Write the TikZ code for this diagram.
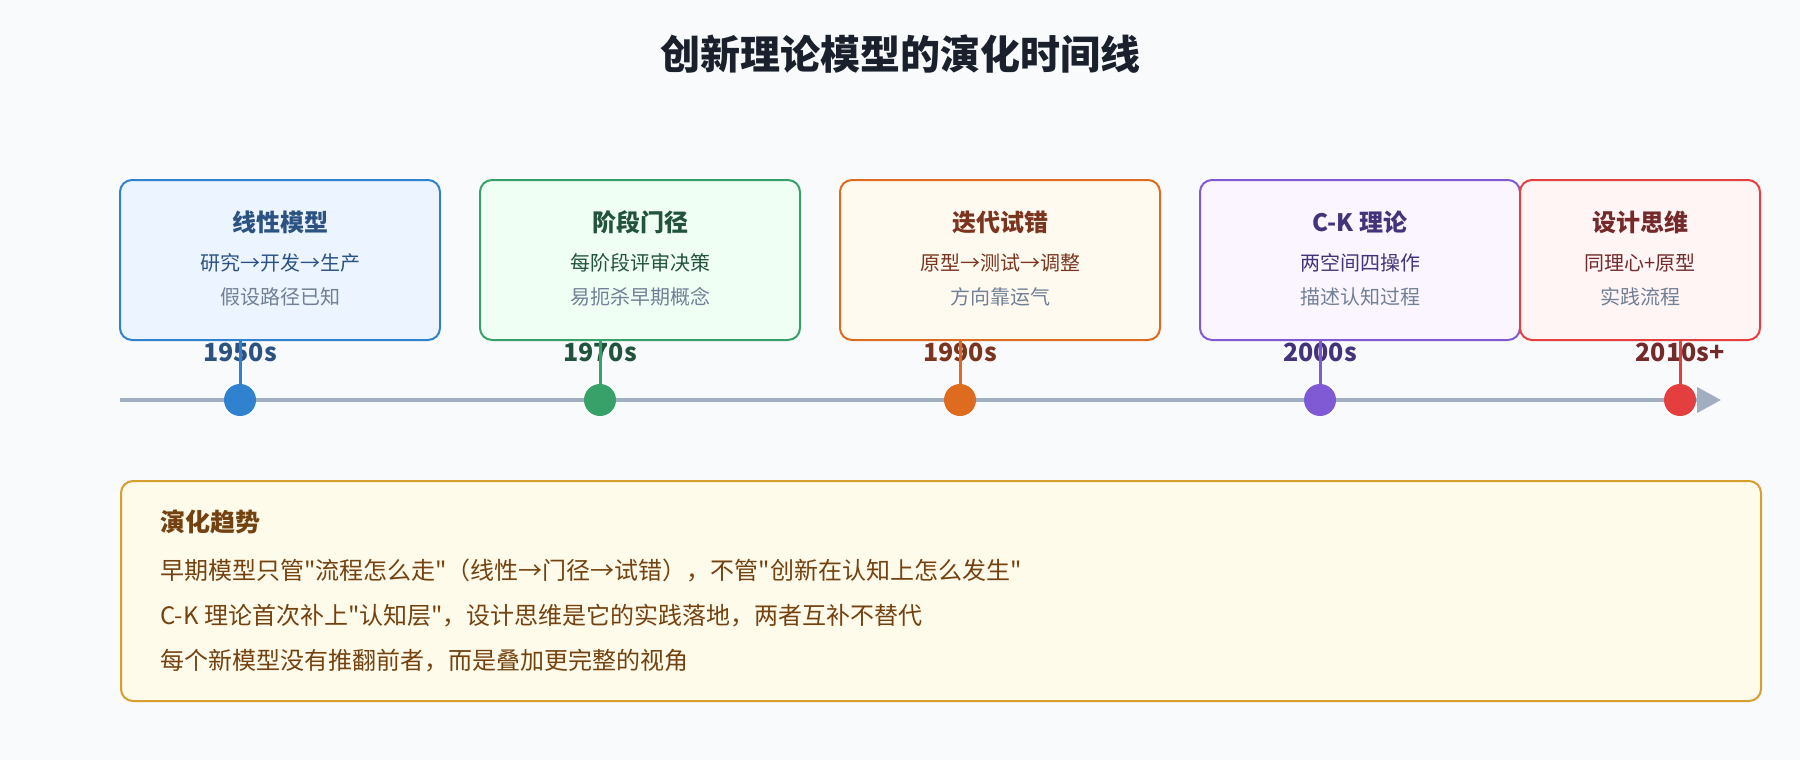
\documentclass[tikz,border=0pt]{standalone}
\usepackage{fontspec}
\setmainfont{Noto Sans CJK SC}[Ligatures=TeXOff]
\usetikzlibrary{arrows.meta}
\definecolor{bg}{HTML}{F8FAFC}
\definecolor{ttl}{HTML}{1A202C}
\definecolor{axis}{HTML}{A0AEC0}
\definecolor{sub}{HTML}{718096}
\definecolor{cA}{HTML}{3182CE}\definecolor{fA}{HTML}{EBF4FF}\definecolor{tA}{HTML}{2C5282}
\definecolor{cB}{HTML}{38A169}\definecolor{fB}{HTML}{F0FFF4}\definecolor{tB}{HTML}{22543D}
\definecolor{cC}{HTML}{DD6B20}\definecolor{fC}{HTML}{FFFAF0}\definecolor{tC}{HTML}{7B341E}
\definecolor{cD}{HTML}{805AD5}\definecolor{fD}{HTML}{FAF5FF}\definecolor{tD}{HTML}{44337A}
\definecolor{cE}{HTML}{E53E3E}\definecolor{fE}{HTML}{FFF5F5}\definecolor{tE}{HTML}{742A2A}
\definecolor{cN}{HTML}{D69E2E}\definecolor{fN}{HTML}{FFFBEB}\definecolor{tN}{HTML}{744210}
\begin{document}
\begin{tikzpicture}[x=1pt,y=-1pt,
  card/.style={draw=#1, line width=2pt, rounded corners=12pt, minimum height=160pt,
    inner sep=0pt, outer sep=0pt, anchor=north west},
  cardtitle/.style={text=#1, font=\fontsize{24}{28}\selectfont\bfseries, inner sep=0pt},
  cardline/.style={text=#1, font=\fontsize{20}{24}\selectfont, inner sep=0pt},
  cardsub/.style={text=sub, font=\fontsize{20}{24}\selectfont, inner sep=0pt},
  year/.style={text=#1, font=\fontsize{25}{28}\selectfont\bfseries, inner sep=0pt},
  stem/.style={draw=#1, line width=3pt},
  dot/.style={circle, fill=#1, minimum size=32pt, inner sep=0pt},
  notehead/.style={text=tN, font=\fontsize{25}{28}\selectfont\bfseries, inner sep=0pt, anchor=west},
  noteline/.style={text=tN, font=\fontsize{24}{28}\selectfont, inner sep=0pt, anchor=west},
]
\useasboundingbox (0,0) rectangle (1800,760);
\fill[bg] (0,0) rectangle (1800,760);

\node[text=ttl, font=\fontsize{40}{46}\selectfont\bfseries, inner sep=0pt] (title) at (900,54) {创新理论模型的演化时间线};

% cards
\node[card=cA, fill=fA, minimum width=320pt] (boxA) at (120,180) {};
\node[card=cB, fill=fB, minimum width=320pt] (boxB) at (480,180) {};
\node[card=cC, fill=fC, minimum width=320pt] (boxC) at (840,180) {};
\node[card=cD, fill=fD, minimum width=320pt] (boxD) at (1200,180) {};
\node[card=cE, fill=fE, minimum width=240pt] (boxE) at (1520,180) {};

\node[cardtitle=tA] (tiA) at (280,222) {线性模型};
\node[cardline=tA] (l1A) at (280,263) {研究→开发→生产};
\node[cardsub] (l2A) at (280,297) {假设路径已知};

\node[cardtitle=tB] (tiB) at (640,222) {阶段门径};
\node[cardline=tB] (l1B) at (640,263) {每阶段评审决策};
\node[cardsub] (l2B) at (640,297) {易扼杀早期概念};

\node[cardtitle=tC] (tiC) at (1000,222) {迭代试错};
\node[cardline=tC] (l1C) at (1000,263) {原型→测试→调整};
\node[cardsub] (l2C) at (1000,297) {方向靠运气};

\node[cardtitle=tD] (tiD) at (1360,222) {C-K 理论};
\node[cardline=tD] (l1D) at (1360,263) {两空间四操作};
\node[cardsub] (l2D) at (1360,297) {描述认知过程};

\node[cardtitle=tE] (tiE) at (1640,222) {设计思维};
\node[cardline=tE] (l1E) at (1640,263) {同理心+原型};
\node[cardsub] (l2E) at (1640,297) {实践流程};

% year labels
\node[year=tA] (yA) at (240,352) {1950s};
\node[year=tB] (yB) at (600,352) {1970s};
\node[year=tC] (yC) at (960,352) {1990s};
\node[year=tD] (yD) at (1320,352) {2000s};
\node[year=tE] (yE) at (1680,352) {2010s+};

% axis
\coordinate (axL) at (120,400);
\coordinate (axR) at (1721,400);
\draw[axis, line width=4pt, -{Triangle[length=24pt,width=25pt]}] (axL) -- (axR);

% dots
\node[dot=cA] (dA) at (240,400) {};
\node[dot=cB] (dB) at (600,400) {};
\node[dot=cC] (dC) at (960,400) {};
\node[dot=cD] (dD) at (1320,400) {};
\node[dot=cE] (dE) at (1680,400) {};

% stems
\draw[stem=cA] (dA.center |- boxA.south) -- (dA);
\draw[stem=cB] (dB.center |- boxB.south) -- (dB);
\draw[stem=cC] (dC.center |- boxC.south) -- (dC);
\draw[stem=cD] (dD.center |- boxD.south) -- (dD);
\draw[stem=cE] (dE.center |- boxE.south) -- (dE);

% note box
\node[draw=cN, fill=fN, line width=2pt, rounded corners=12pt, minimum width=1640pt,
  minimum height=220pt, inner sep=0pt, anchor=north west] (note) at (120,480) {};
\node[notehead] (nh) at (160,522) {演化趋势};
\node[noteline] (n1) at (160,571) {早期模型只管"流程怎么走"（线性→门径→试错），不管"创新在认知上怎么发生"};
\node[noteline] (n2) at (160,616) {C-K 理论首次补上"认知层"，设计思维是它的实践落地，两者互补不替代};
\node[noteline] (n3) at (160,661) {每个新模型没有推翻前者，而是叠加更完整的视角};
\end{tikzpicture}
\end{document}
